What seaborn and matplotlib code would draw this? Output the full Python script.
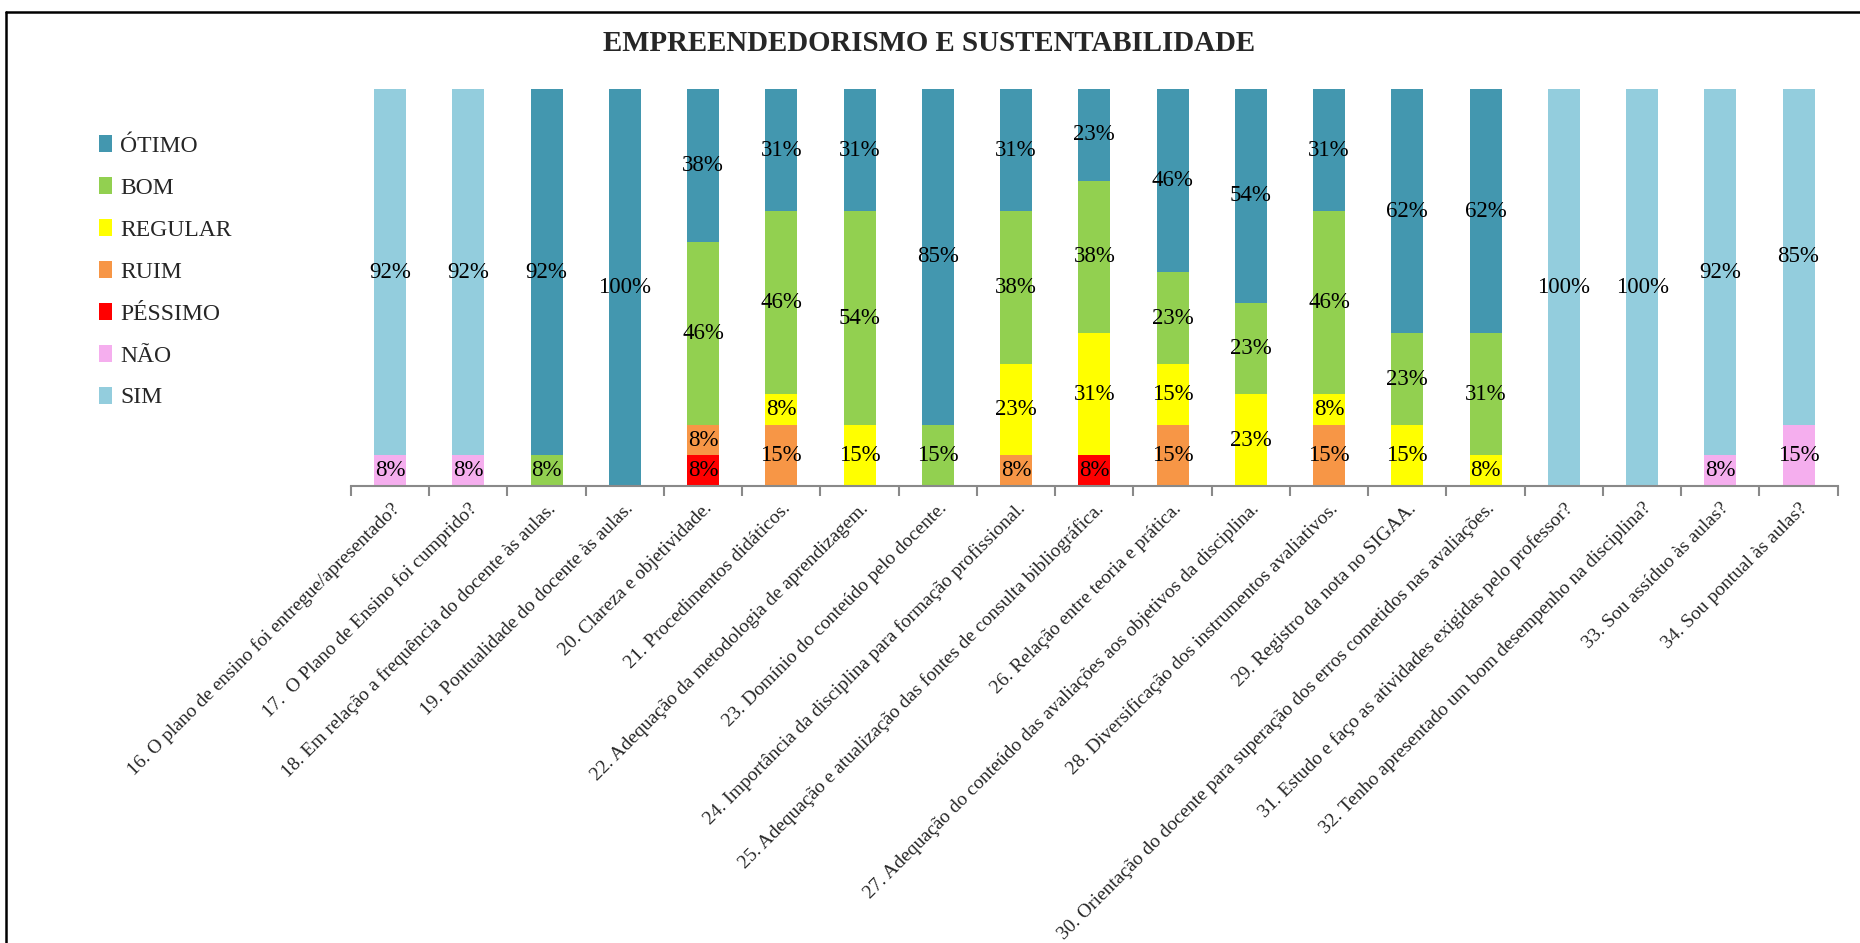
import matplotlib
matplotlib.use("Agg")
import matplotlib.pyplot as plt
from matplotlib.patches import Patch
from matplotlib.lines import Line2D
import seaborn as sns
import pandas as pd

# questions (x axis)
questions = [
    "16. O plano de ensino foi entregue/apresentado?",
    "17.  O Plano de Ensino foi cumprido?",
    "18. Em relação a frequência do docente às aulas.",
    "19. Pontualidade do docente às aulas.",
    "20. Clareza e objetividade.",
    "21. Procedimentos didáticos.",
    "22. Adequação da metodologia de aprendizagem.",
    "23. Domínio do conteúdo pelo docente.",
    "24. Importância da disciplina para formação profissional.",
    "25. Adequação e atualização das fontes de consulta bibliográfica.",
    "26. Relação entre teoria e prática.",
    "27. Adequação do conteúdo das avaliações aos objetivos da disciplina.",
    "28. Diversificação dos instrumentos avaliativos.",
    "29. Registro da nota no SIGAA.",
    "30. Orientação do docente para superação dos erros cometidos nas avaliações.",
    "31. Estudo e faço as atividades exigidas pelo professor?",
    "32. Tenho apresentado um bom desempenho na disciplina?",
    "33. Sou assíduo às aulas?",
    "34. Sou pontual às aulas?",
]

# percentages per answer (stacked bottom -> top)
pessimo = [0, 0, 0, 0, 7.69, 0, 0, 0, 0, 7.69, 0, 0, 0, 0, 0, 0, 0, 0, 0]
ruim = [0, 0, 0, 0, 7.69, 15.38, 0, 0, 7.69, 0, 15.38, 0, 15.38, 0, 0, 0, 0, 0, 0]
regular = [0, 0, 0, 0, 0, 7.69, 15.38, 0, 23.08, 30.77, 15.38, 23.08, 7.69, 15.38, 7.69, 0, 0, 0, 0]
bom = [0, 0, 7.69, 0, 46.15, 46.15, 53.85, 15.38, 38.46, 38.46, 23.08, 23.08, 46.15, 23.08, 30.77, 0, 0, 0, 0]
otimo = [0, 0, 92.31, 100, 38.46, 30.77, 30.77, 84.62, 30.77, 23.08, 46.15, 53.85, 30.77, 61.54, 61.54, 0, 0, 0, 0]
nao = [7.69, 7.69, 0, 0, 0, 0, 0, 0, 0, 0, 0, 0, 0, 0, 0, 0, 0, 7.69, 15.38]
sim = [92.31, 92.31, 0, 0, 0, 0, 0, 0, 0, 0, 0, 0, 0, 0, 0, 100, 100, 92.31, 84.62]

stack_order = ["PÉSSIMO", "RUIM", "REGULAR", "BOM", "ÓTIMO", "NÃO", "SIM"]
stack_values = [pessimo, ruim, regular, bom, otimo, nao, sim]
legend_order = ["ÓTIMO", "BOM", "REGULAR", "RUIM", "PÉSSIMO", "NÃO", "SIM"]
colors = {
    "ÓTIMO": "#4397AF",
    "BOM": "#92D050",
    "REGULAR": "#FFFF00",
    "RUIM": "#F79646",
    "PÉSSIMO": "#FF0000",
    "NÃO": "#F5AEEE",
    "SIM": "#93CDDD",
}

sns.set_style("white")
plt.rcParams["font.family"] = ["Liberation Serif", "DejaVu Serif"]

fig = plt.figure(figsize=(18.6, 9.43), dpi=100)
ax = fig.add_axes([0.1887, 0.4846, 0.7993, 0.4210])

n = len(questions)
bottom = [0.0] * n
for name, vals in zip(stack_order, stack_values):
    df = pd.DataFrame({"q": questions, "v": vals})
    sns.barplot(data=df, x="q", y="v", order=questions, color=colors[name],
                saturation=1, width=0.41, bottom=bottom, ax=ax,
                edgecolor="none", linewidth=0)
    for i, v in enumerate(vals):
        if v > 0:
            ax.text(i, bottom[i] + v / 2, f"{v:.0f}%", ha="center", va="center",
                    fontsize=16.5, color="black")
    bottom = [b + v for b, v in zip(bottom, vals)]

ax.set_ylim(0, 100)
ax.set_xlim(-0.5, n - 0.5)
ax.set_yticks([])
ax.set_ylabel("")
ax.set_xlabel("")
for s in ["top", "right", "left"]:
    ax.spines[s].set_visible(False)
ax.spines["bottom"].set_color("#898989")
ax.spines["bottom"].set_linewidth(1.5)

ax.set_xticks(range(n))
ax.set_xticklabels(questions, rotation=45, ha="right", rotation_mode="anchor",
                   fontsize=14)
ax.tick_params(axis="x", which="major", length=0, pad=10)
ax.set_xticks([i - 0.5 for i in range(n + 1)], minor=True)
ax.tick_params(axis="x", which="minor", length=7, width=1.5, color="#898989",
               direction="out", bottom=True)

fig.text(0.4995, 0.954, "EMPREENDEDORISMO E SUSTENTABILIDADE", ha="center",
         va="center", fontsize=20.8, fontweight="bold")

handles = [Patch(facecolor=colors[k], edgecolor="none") for k in legend_order]
fig.legend(handles, legend_order, loc="upper left", bbox_to_anchor=(0.048, 0.867),
           frameon=False, fontsize=17, handlelength=0.55, handleheight=0.75,
           handletextpad=0.35, labelspacing=0.85, borderaxespad=0)

# outer chart frame (top and left edges visible)
fig.add_artist(Line2D([0.0032, 1.0], [1 - 12 / 943, 1 - 12 / 943],
                      transform=fig.transFigure, color="black", linewidth=1.8))
fig.add_artist(Line2D([0.0032, 0.0032], [0.0, 1 - 12 / 943],
                      transform=fig.transFigure, color="black", linewidth=1.8))

fig.savefig("out.png", dpi=100)
